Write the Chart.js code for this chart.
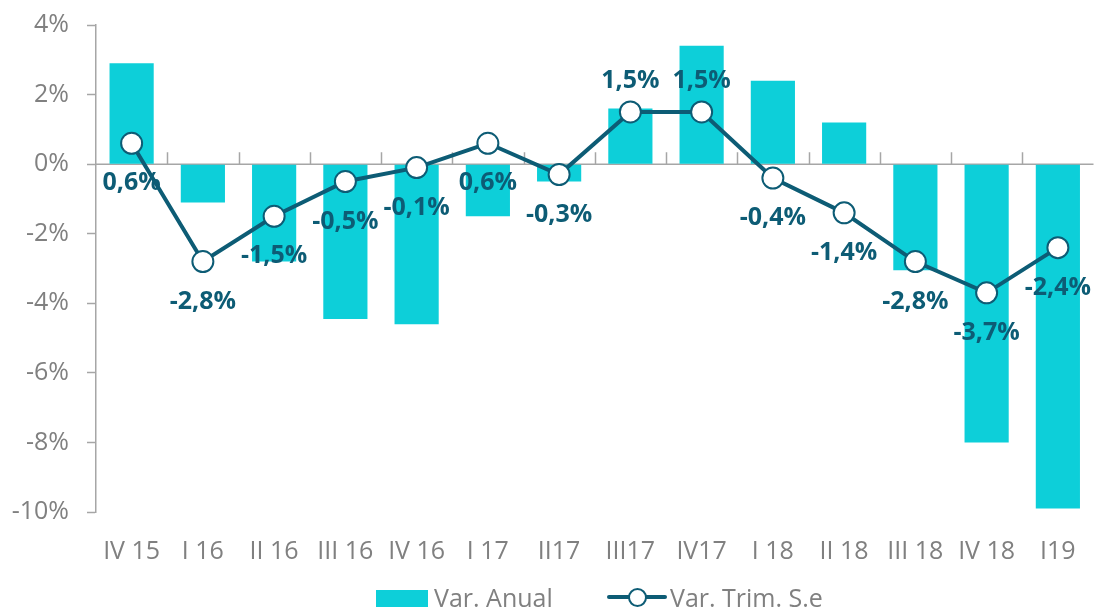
<!DOCTYPE html>
<html>
<head>
<meta charset="utf-8">
<script src="https://cdn.jsdelivr.net/npm/chart.js@4.4.0/dist/chart.umd.min.js"></script>
<style>
  html, body { margin: 0; padding: 0; background: #fff; }
  #wrap { position: relative; width: 1106px; height: 609px; overflow: hidden; }
  canvas { display: block; }
  .item { position: absolute; top: 582px; height: 30px; line-height: 30px;
    font-family: "Open Sans", sans-serif; font-size: 25px; color: #808080; white-space: nowrap; }
  .box { position: absolute; left: 0; top: 8px; width: 52px; height: 17px; background: #0dcfd9; }
  .ln { position: absolute; left: 0; top: 4px; width: 60px; height: 22px; }
  .ln:before { content: ''; position: absolute; left: 0; right: 0; top: 9px; height: 4px; background: #0d5c75; border-radius: 2px; }
  .ln:after { content: ''; position: absolute; left: 21px; top: 2px; width: 15px; height: 15px; border: 2px solid #0d5c75; border-radius: 50%; background: #fff; }
</style>
</head>
<body>
<div id="wrap">
  <canvas id="chart" width="1106" height="609"></canvas>
  <div class="item" style="left:376px; padding-left:58px;"><span class="box"></span>Var. Anual</div>
  <div class="item" style="left:607px; padding-left:63px;"><span class="ln"></span>Var. Trim. S.e</div>
</div>
<script>
const quarters = ['IV 15','I 16','II 16','III 16','IV 16','I 17','II17','III17','IV17','I 18','II 18','III 18','IV 18','I19'];
const anual = [2.9, -1.1, -2.8, -4.45, -4.6, -1.5, -0.5, 1.6, 3.4, 2.4, 1.2, -3.05, -8.0, -9.9];
const trim = [0.6, -2.8, -1.5, -0.5, -0.1, 0.6, -0.3, 1.5, 1.5, -0.4, -1.4, -2.8, -3.7, -2.4];
const labelsAbove = [7, 8];

const teal = '#0d5c75';
const gray = '#808080';

// labels + zero axis with category ticks
const extras = {
  id: 'extras',
  beforeDatasetsDraw(chart) {
    const ctx = chart.ctx, x = chart.scales.x, y = chart.scales.y;
    const y0 = y.getPixelForValue(0);
    ctx.save();
    ctx.strokeStyle = '#a6a6a6';
    ctx.lineWidth = 1.5;
    ctx.beginPath();
    ctx.moveTo(chart.chartArea.left, y0);
    ctx.lineTo(chart.chartArea.right, y0);
    const step = x.getPixelForValue(1) - x.getPixelForValue(0);
    for (let i = 1; i < quarters.length; i++) {
      const px = Math.round(x.getPixelForValue(i) - step / 2) + 0.5;
      ctx.moveTo(px, y0);
      ctx.lineTo(px, y0 - 12);
    }
    ctx.stroke();
    ctx.restore();
  },
  afterDatasetsDraw(chart) {
    const ctx = chart.ctx;
    const meta = chart.getDatasetMeta(1);
    ctx.save();
    ctx.font = 'bold 25px "Open Sans", sans-serif';
    ctx.fillStyle = teal;
    ctx.textAlign = 'center';
    ctx.textBaseline = 'middle';
    meta.data.forEach((pt, i) => {
      const txt = trim[i].toFixed(1).replace('.', ',') + '%';
      const dy = labelsAbove.includes(i) ? -31 : 40;
      ctx.fillText(txt, pt.x, pt.y + dy);
    });
    ctx.restore();
  }
};

new Chart(document.getElementById('chart'), {
  type: 'bar',
  data: {
    labels: quarters,
    datasets: [{
      label: 'Var. Anual',
      data: anual,
      backgroundColor: '#0dcfd9',
      barPercentage: 0.62,
      categoryPercentage: 1,
      order: 2
    }, {
      type: 'line',
      label: 'Var. Trim. S.e',
      data: trim,
      borderColor: teal,
      borderWidth: 4,
      pointRadius: 10.5,
      pointBorderWidth: 2,
      pointBackgroundColor: '#fff',
      pointBorderColor: teal,
      tension: 0,
      order: 1
    }]
  },
  options: {
    responsive: false,
    animation: false,
    layout: { padding: { top: 25, right: 0, bottom: 50, left: 0 } },
    plugins: { legend: { display: false }, tooltip: { enabled: false } },
    scales: {
      x: {
        grid: { display: false, drawTicks: false },
        border: { display: false },
        ticks: { color: gray, padding: 25, font: { family: 'Open Sans', size: 25 } },
        afterFit(s) { s.height = 47; s.paddingLeft = 0; s.paddingRight = 0; }
      },
      y: {
        min: -10, max: 4,
        ticks: { stepSize: 2, color: gray, padding: 18, font: { family: 'Open Sans', size: 25 },
          callback: v => v + '%' },
        grid: { drawOnChartArea: false, tickLength: 9, tickColor: '#a6a6a6', tickWidth: 1.5 },
        border: { color: '#a6a6a6', width: 1.5 },
        afterFit(s) { s.width = 96; s.paddingTop = 0; s.paddingBottom = 0; }
      }
    }
  },
  plugins: [extras]
});
</script>
</body>
</html>
